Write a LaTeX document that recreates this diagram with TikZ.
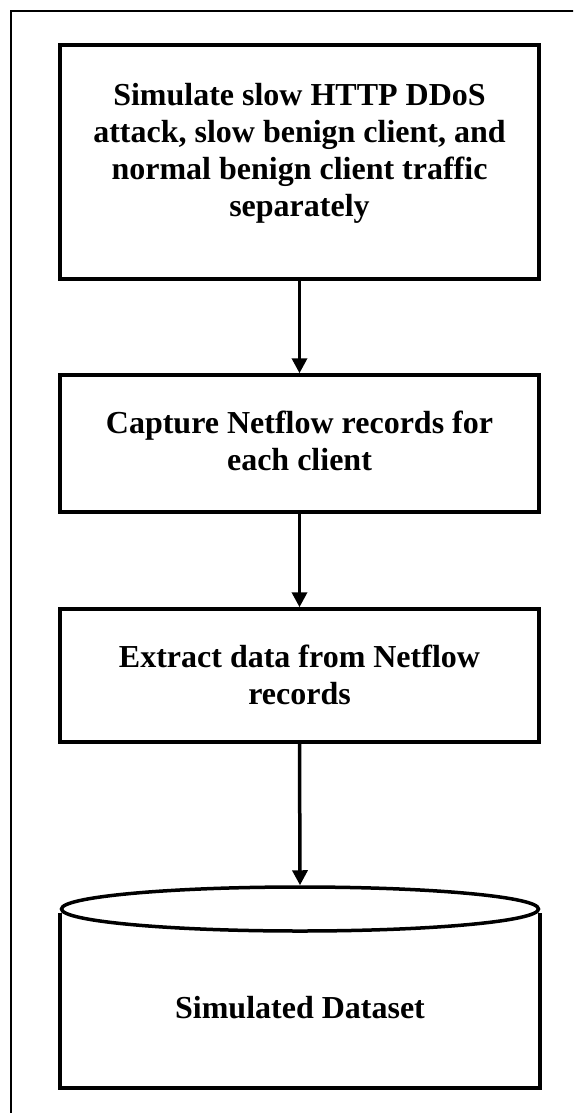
\documentclass[tikz,border=0pt]{standalone}
\usepackage{fontspec}
\setmainfont{Liberation Serif}
\usetikzlibrary{arrows.meta,shapes.geometric}
\tikzset{
  x=1pt, y=-1pt,
  stepbox/.style={draw, line width=3.5pt, minimum width=479pt, inner sep=0pt},
  flow/.style={line width=3.5pt, -{Triangle[length=15pt,width=15pt]}},
  lbl/.style={align=center, font=\bfseries\fontsize{32}{37}\selectfont}
}
\begin{document}
\begin{tikzpicture}
  \useasboundingbox (0,0) rectangle (573,1113);
  \begin{scope}
    \clip (0,0) rectangle (573,1113);
    % outer frame, running past the page on the right and bottom
    \draw[line width=2pt] (11,11) rectangle (600,1140);
  \end{scope}

  % process boxes
  \node[stepbox, minimum height=234pt] (b1) at (299.5,162) {};
  \node[lbl] (t1) at (299.5,153) {Simulate slow HTTP DDoS\\attack, slow benign client, and\\normal benign client traffic\\separately};
  \node[stepbox, minimum height=137pt] (b2) at (299.5,443.5) {};
  \node[lbl] (t2) at (299.5,441) {Capture Netflow records for\\each client};
  \node[stepbox, minimum height=133pt] (b3) at (299.5,675.5) {};
  \node[lbl] (t3) at (299.5,674.5) {Extract data from Netflow\\records};

  % data store (cylinder)
  \node[inner sep=0pt, minimum width=480pt, minimum height=175pt] (body) at (300,1000.5) {};
  \draw[line width=3.5pt] (body.north west) -- (body.south west) -- (body.south east) -- (body.north east);
  \node[draw, ellipse, line width=3.5pt, fill=white, minimum width=477pt, minimum height=44pt, inner sep=0pt] (top) at (300,909) {};
  \node[lbl] (dsl) at (300,1008) {Simulated Dataset};

  % connectors
  \draw[flow] (b1.south) -- (b2.north);
  \draw[flow] (b2.south) -- (b3.north);
  \draw[flow] (b3.south) -- (top.north);
\end{tikzpicture}
\end{document}
